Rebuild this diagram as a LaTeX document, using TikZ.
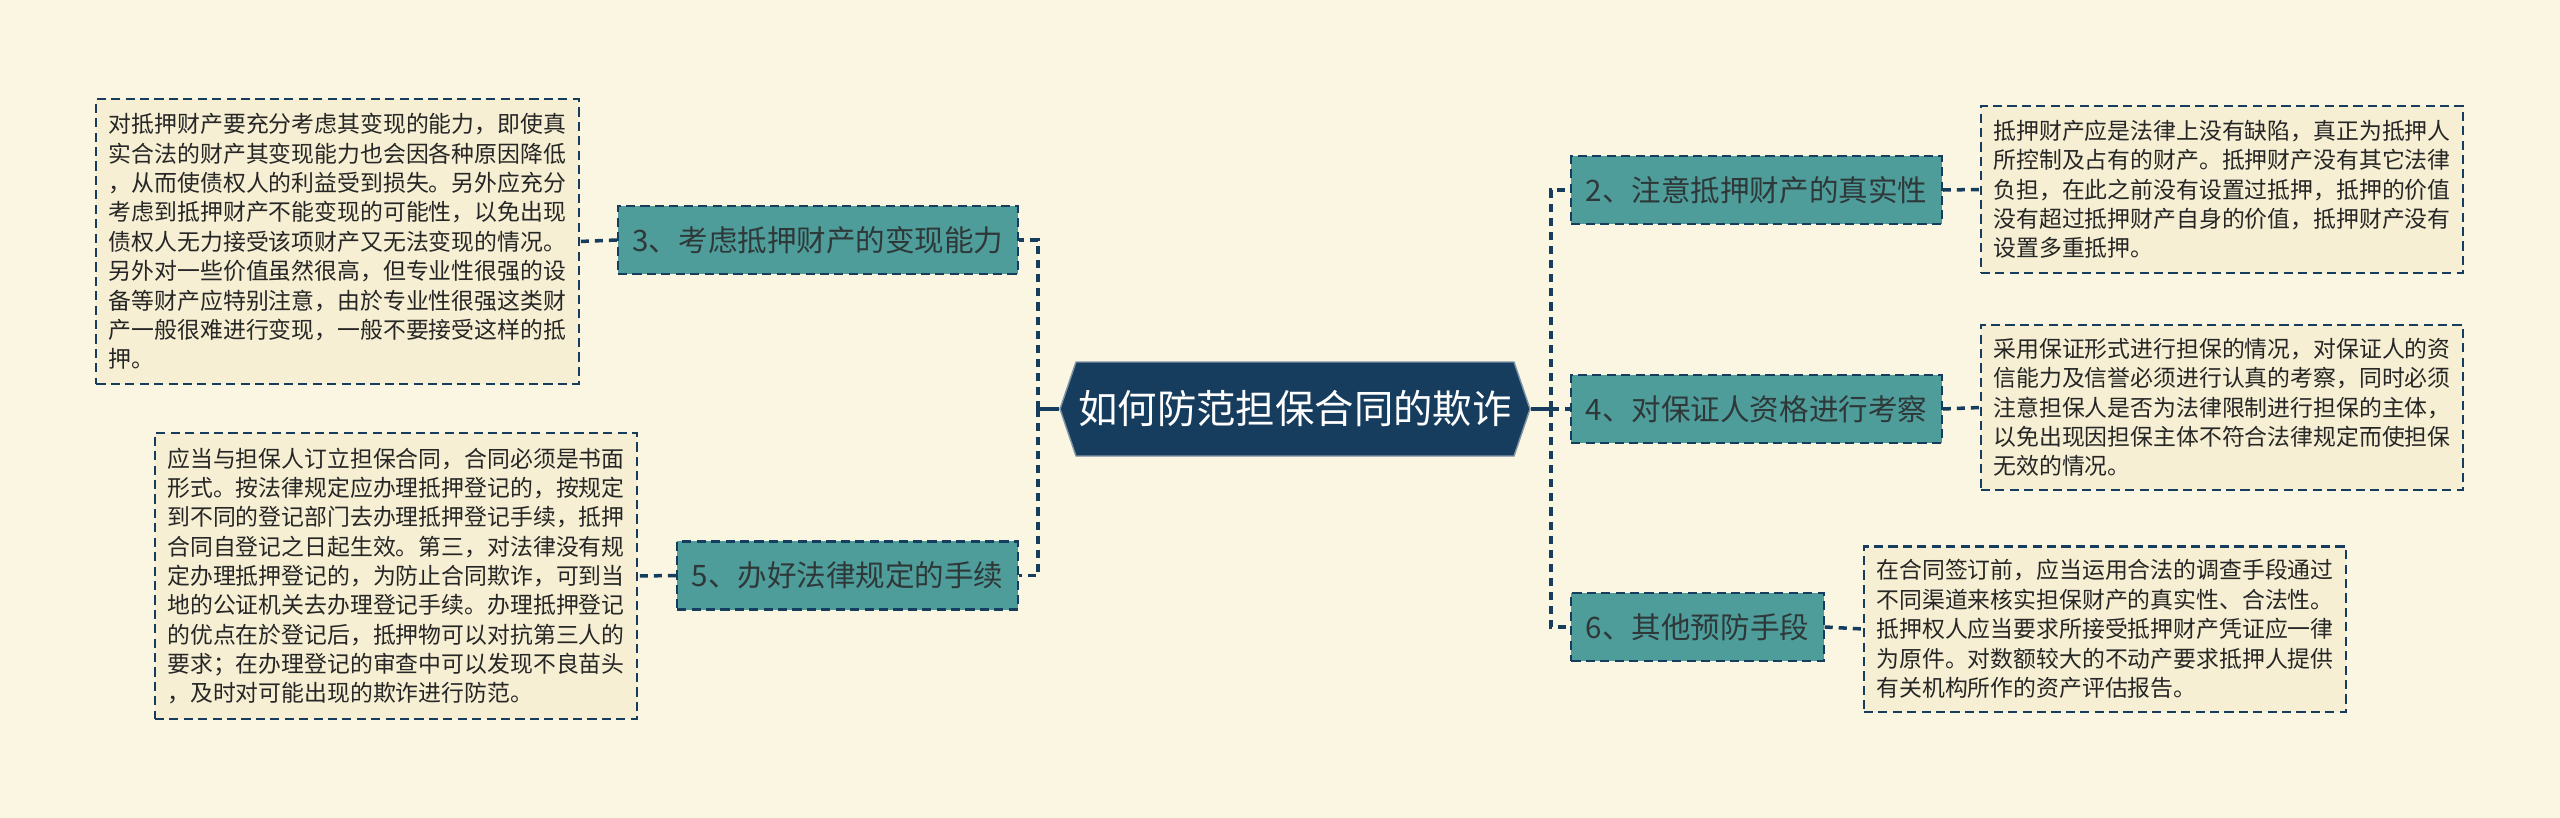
\documentclass[tikz,border=0pt]{standalone}
\usepackage{fontspec}
\setmainfont{Noto Sans CJK SC}
\usepackage{tikz}
\usetikzlibrary{positioning}

\definecolor{paper}{HTML}{FBF6E2}
\definecolor{notefill}{HTML}{F6EFD3}
\definecolor{navy}{HTML}{173D5E}
\definecolor{teal}{HTML}{4E9D9B}
\definecolor{inkgray}{HTML}{2E3838}

\tikzset{
  topicbox/.style={shape=rectangle, fill=teal, draw=navy, line width=0.6pt,
    dash pattern=on 2.6pt off 1.5pt, text=inkgray, inner xsep=1.45mm, inner ysep=0pt,
    minimum height=6.8mm, font=\fontsize{8.4}{10}\selectfont},
  notebox/.style={shape=rectangle, fill=notefill, draw=navy, line width=0.6pt,
    dash pattern=on 2.6pt off 1.5pt, text=black!85, align=left, inner xsep=1.25mm,
    inner ysep=0pt, font=\fontsize{6.5}{8.35}\selectfont},
  link/.style={draw=navy, line width=1pt, dash pattern=on 2.3pt off 1.7pt},
}

\begin{document}
\begin{tikzpicture}[x=0.01cm, y=-0.01cm]
    % page
    \fill[paper] (0,0) rectangle (2560,818);

    % centre topic
    \filldraw[fill=navy, draw=navy!55!white, line width=0.4pt]
        (1060,409) -- (1076,362) -- (1514,362) -- (1530,409) -- (1514,456) -- (1076,456) -- cycle;
    \node[text=white, font=\fontsize{11.2}{13}\selectfont, inner sep=0pt,
          minimum height=9.4mm, minimum width=47mm] (root) at (1295,409) {如何防范担保合同的欺诈};

    % left branches
    \node[topicbox] (b3) at (818,240) {3、考虑抵押财产的变现能力};
    \node[topicbox] (b5) at (847.5,575.5) {5、办好法律规定的手续};

    % right branches
    \node[topicbox] (b2) at (1756.5,190) {2、注意抵押财产的真实性};
    \node[topicbox] (b4) at (1756.5,409) {4、对保证人资格进行考察};
    \node[topicbox] (b6) at (1697.5,627) {6、其他预防手段};

    % notes
    \node[notebox, minimum width=48.1mm, minimum height=28.5mm] (n3) at (337.5,241.5) {对抵押财产要充分考虑其变现的能力，即使真\\实合法的财产其变现能力也会因各种原因降低\\，从而使债权人的利益受到损失。另外应充分\\考虑到抵押财产不能变现的可能性，以免出现\\债权人无力接受该项财产又无法变现的情况。\\另外对一些价值虽然很高，但专业性很强的设\\备等财产应特别注意，由於专业性很强这类财\\产一般很难进行变现，一般不要接受这样的抵\\押。};
    \node[notebox, minimum width=48mm, minimum height=28.6mm] (n5) at (396,576) {应当与担保人订立担保合同，合同必须是书面\\形式。按法律规定应办理抵押登记的，按规定\\到不同的登记部门去办理抵押登记手续，抵押\\合同自登记之日起生效。第三，对法律没有规\\定办理抵押登记的，为防止合同欺诈，可到当\\地的公证机关去办理登记手续。办理抵押登记\\的优点在於登记后，抵押物可以对抗第三人的\\要求；在办理登记的审查中可以发现不良苗头\\，及时对可能出现的欺诈进行防范。};
    \node[notebox, minimum width=48mm, minimum height=16.7mm] (n2) at (2222,189.5) {抵押财产应是法律上没有缺陷，真正为抵押人\\所控制及占有的财产。抵押财产没有其它法律\\负担，在此之前没有设置过抵押，抵押的价值\\没有超过抵押财产自身的价值，抵押财产没有\\设置多重抵押。};
    \node[notebox, minimum width=48mm, minimum height=16.5mm] (n4) at (2222,407.5) {采用保证形式进行担保的情况，对保证人的资\\信能力及信誉必须进行认真的考察，同时必须\\注意担保人是否为法律限制进行担保的主体，\\以免出现因担保主体不符合法律规定而使担保\\无效的情况。};
    \node[notebox, minimum width=48mm, minimum height=16.5mm] (n6) at (2105,629) {在合同签订前，应当运用合法的调查手段通过\\不同渠道来核实担保财产的真实性、合法性。\\抵押权人应当要求所接受抵押财产凭证应一律\\为原件。对数额较大的不动产要求抵押人提供\\有关机构所作的资产评估报告。};

    % trunks
    \coordinate (ltrunk) at (1038,409);
    \coordinate (rtrunk) at (1551,409);
    \draw[navy, line width=1pt] (root.west) -- (ltrunk);
    \draw[navy, line width=1pt] (root.east) -- (rtrunk);
    \draw[link] (ltrunk) |- (b3.east);
    \draw[link] (ltrunk) |- (b5.east);
    \draw[link] (rtrunk) |- (b2.west);
    \draw[link] (rtrunk) |- (b4.west);
    \draw[link] (rtrunk) |- (b6.west);

    % branch to note
    \draw[link] (b3.west) -- (n3.east);
    \draw[link] (b5.west) -- (n5.east);
    \draw[link] (b2.east) -- (n2.west);
    \draw[link] (b4.east) -- (n4.west);
    \draw[link] (b6.east) -- (n6.west);
\end{tikzpicture}
\end{document}
